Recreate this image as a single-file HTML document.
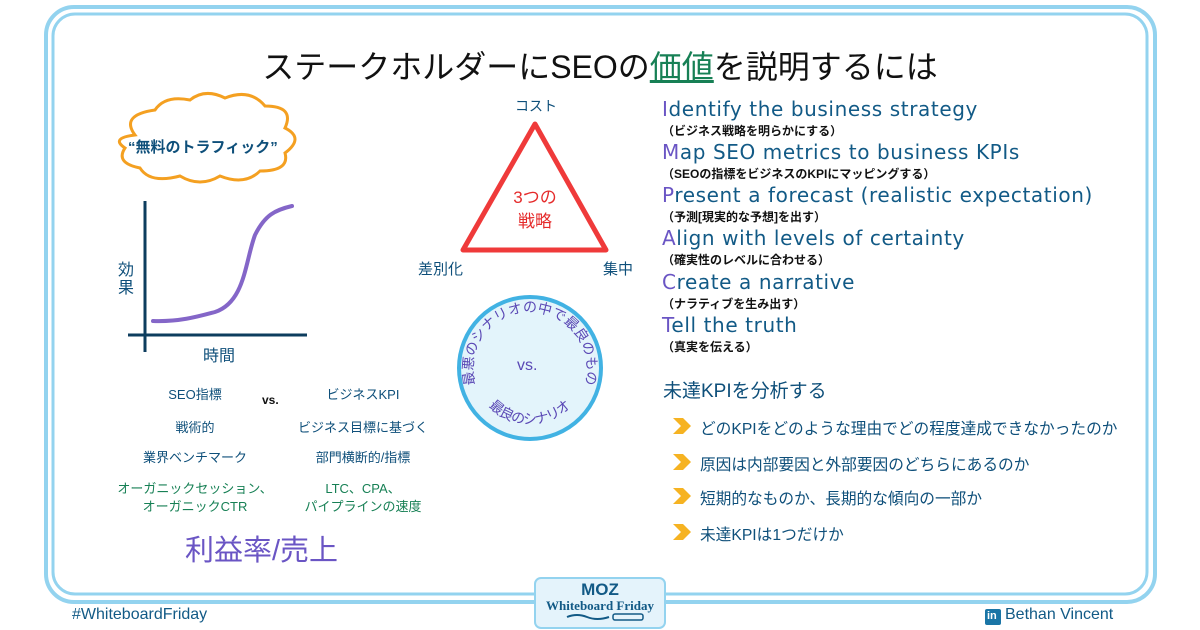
<!DOCTYPE html>
<html><head><meta charset="utf-8"><style>
body{margin:0;width:1200px;height:630px;background:#fff;position:relative;overflow:hidden;font-family:"Liberation Sans","Noto Sans CJK JP",sans-serif;color:#0e4f7a}
.a{position:absolute;white-space:nowrap}
.h{font-size:20px;color:#125a86;letter-spacing:0.6px;font-family:"DejaVu Sans","Noto Sans CJK JP",sans-serif}
.h b{font-weight:normal;color:#6a55c4}
.s{font-size:12px;color:#111;font-weight:bold}
.l{font-size:13px;color:#0e4f7a;text-align:center;width:160px}
.g{color:#178055}
.k{font-size:15.7px;color:#0e4f7a}
</style></head><body>
<svg class="a" style="left:0;top:0" width="1200" height="630">
<rect x="46" y="7" width="1109" height="595" rx="28" fill="none" stroke="#93d3ef" stroke-width="4"/>
<rect x="53" y="14" width="1094" height="580" rx="22" fill="none" stroke="#93d3ef" stroke-width="3"/>
<rect x="535" y="578" width="130" height="50" rx="6" fill="#e4f3fb" stroke="#93d3ef" stroke-width="2"/>
<path d="M567 617 q10 -4 20 0 t22 0" stroke="#125a86" stroke-width="2" fill="none"/>
<rect x="613" y="614" width="30" height="6" rx="2" fill="none" stroke="#125a86" stroke-width="1.5"/>
<path d="M135 135 q-15 -20 20 -25 q10 -15 35 -10 q15 -12 35 -2 q25 -10 40 8 q30 0 20 22 q20 10 0 25 q5 18 -25 18 q-15 15 -40 5 q-20 12 -40 0 q-30 8 -40 -8 q-25 -5 -15 -20 q-15 -10 10 -13z" fill="#fff" stroke="#f4a021" stroke-width="3"/>
<line x1="145" y1="201" x2="145" y2="352" stroke="#0d3d5e" stroke-width="3"/>
<line x1="128" y1="335" x2="307" y2="335" stroke="#0d3d5e" stroke-width="3"/>
<path d="M153 321 C180 322 200 316 215 312 C245 302 245 262 255 235 C265 215 275 210 292 206" stroke="#8466c8" stroke-width="4" fill="none" stroke-linecap="round"/>
<polygon points="535,124 463,250 606,250" fill="none" stroke="#ef3a3a" stroke-width="5" stroke-linejoin="round"/>
<circle cx="530" cy="368" r="71" fill="#e3f4fb" stroke="#41b2e3" stroke-width="4"/>
<defs><path id="ca" d="M477 390 A57 57 0 1 1 583 390"/><path id="cb" d="M470 378 A61 61 0 0 0 590 378"/></defs>
<text font-size="14" fill="#5a48b5" font-family="Liberation Sans,Noto Sans CJK JP,sans-serif"><textPath href="#ca" startOffset="50%" text-anchor="middle">最悪のシナリオの中で最良のもの</textPath></text>
<text font-size="14" fill="#5a48b5" font-family="Liberation Sans,Noto Sans CJK JP,sans-serif" dy="-4"><textPath href="#cb" startOffset="50%" text-anchor="middle">最良のシナリオ</textPath></text>
<g fill="#f6b322">
<path d="M673 418 h10 l8 8 l-8 8 h-10 l8 -8z"/>
<path d="M673 454 h10 l8 8 l-8 8 h-10 l8 -8z"/>
<path d="M673 488 h10 l8 8 l-8 8 h-10 l8 -8z"/>
<path d="M673 524 h10 l8 8 l-8 8 h-10 l8 -8z"/>
</g>
<rect x="985" y="609" width="16" height="16" rx="2" fill="#1a75a6"/>
</svg>
<div class="a" style="left:0;width:1200px;text-align:center;top:42px;font-size:32px;color:#111">ステークホルダーにSEOの<span style="color:#178055;text-decoration:underline">価値</span>を説明するには</div>
<div class="a" style="left:128px;top:136px;font-size:15px;font-weight:bold;color:#0e4f7a">“無料のトラフィック”</div>
<div class="a" style="left:118px;top:262px;font-size:16px;line-height:18px">効<br>果</div>
<div class="a" style="left:203px;top:342px;font-size:16px">時間</div>
<div class="a" style="left:515px;top:96px;font-size:14px">コスト</div>
<div class="a" style="left:418px;top:258px;font-size:15px">差別化</div>
<div class="a" style="left:603px;top:258px;font-size:15px">集中</div>
<div class="a" style="left:495px;top:186px;font-size:17px;color:#e52b2b;text-align:center;width:80px;line-height:24px">3つの<br>戦略</div>
<div class="a" style="left:517px;top:357px;font-size:16px;color:#5a48b5">vs.</div>
<div class="a l" style="left:115px;top:384px">SEO指標</div>
<div class="a l" style="left:115px;top:417px">戦術的</div>
<div class="a l" style="left:115px;top:447px">業界ベンチマーク</div>
<div class="a l g" style="left:115px;top:480px;line-height:18px">オーガニックセッション、<br>オーガニックCTR</div>
<div class="a" style="left:262px;top:393px;font-size:12px;font-weight:bold;color:#111">vs.</div>
<div class="a l" style="left:283px;top:384px">ビジネスKPI</div>
<div class="a l" style="left:283px;top:417px">ビジネス目標に基づく</div>
<div class="a l" style="left:283px;top:447px">部門横断的/指標</div>
<div class="a l g" style="left:283px;top:480px;line-height:18px">LTC、CPA、<br>パイプラインの速度</div>
<div class="a" style="left:185px;top:527px;font-size:29px;color:#6a55c4">利益率/売上</div>
<div class="a h" style="left:662px;top:97px"><b>I</b>dentify the business strategy</div>
<div class="a s" style="left:662px;top:122px">（ビジネス戦略を明らかにする）</div>
<div class="a h" style="left:662px;top:140px"><b>M</b>ap SEO metrics to business KPIs</div>
<div class="a s" style="left:662px;top:165px">（SEOの指標をビジネスのKPIにマッピングする）</div>
<div class="a h" style="left:662px;top:183px"><b>P</b>resent a forecast (realistic expectation)</div>
<div class="a s" style="left:662px;top:208px">（予測[現実的な予想]を出す）</div>
<div class="a h" style="left:662px;top:226px"><b>A</b>lign with levels of certainty</div>
<div class="a s" style="left:662px;top:251px">（確実性のレベルに合わせる）</div>
<div class="a h" style="left:662px;top:270px"><b>C</b>reate a narrative</div>
<div class="a s" style="left:662px;top:295px">（ナラティブを生み出す）</div>
<div class="a h" style="left:662px;top:313px"><b>T</b>ell the truth</div>
<div class="a s" style="left:662px;top:338px">（真実を伝える）</div>
<div class="a" style="left:663px;top:376px;font-size:19px;color:#0e4f7a">未達KPIを分析する</div>
<div class="a k" style="left:700px;top:416px">どのKPIをどのような理由でどの程度達成できなかったのか</div>
<div class="a k" style="left:700px;top:452px">原因は内部要因と外部要因のどちらにあるのか</div>
<div class="a k" style="left:700px;top:486px">短期的なものか、長期的な傾向の一部か</div>
<div class="a k" style="left:700px;top:522px">未達KPIは1つだけか</div>
<div class="a" style="left:535px;top:582px;width:130px;text-align:center;font-size:17px;font-weight:900;color:#125a86;line-height:16px">MOZ</div>
<div class="a" style="left:535px;top:598px;width:130px;text-align:center;font-size:13px;font-weight:bold;color:#125a86;font-family:'Liberation Serif',serif">Whiteboard Friday</div>
<div class="a" style="left:72px;top:606px;font-size:16px;color:#125a86">#WhiteboardFriday</div>
<div class="a" style="left:987px;top:610px;font-size:11px;font-weight:bold;color:#fff">in</div>
<div class="a" style="left:1005px;top:606px;font-size:16px;color:#125a86">Bethan Vincent</div>
</body></html>
